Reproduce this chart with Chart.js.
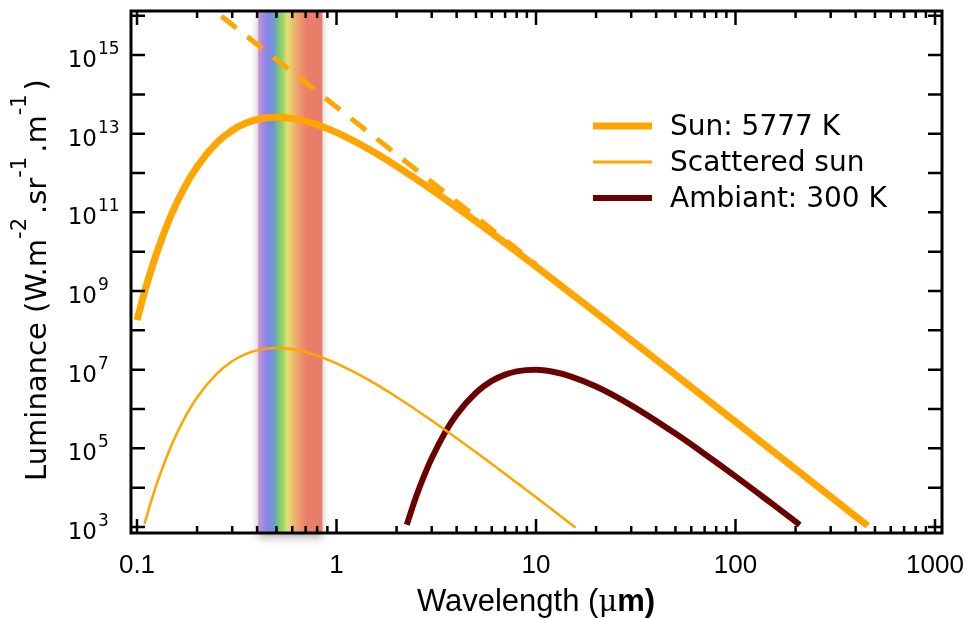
<!DOCTYPE html>
<html><head><meta charset="utf-8">
<script src="https://cdn.jsdelivr.net/npm/chart.js@4.4.0/dist/chart.umd.min.js"></script>
<style>html,body{margin:0;padding:0;background:#fff;}#wrap{width:968px;height:618px;position:relative;}</style>
</head><body><div id="wrap"><canvas id="c" width="968" height="618"></canvas></div>
<script>
// ---- data (wavelength in µm, luminance in W.m-2.sr-1.m-1) ----
const sunWavelengths = [0.1, 0.11, 0.12, 0.13, 0.15, 0.17, 0.2, 0.25, 0.3, 0.35, 0.4, 0.5, 0.6, 0.7, 0.8, 1, 1.5, 2, 3, 5, 7, 10, 20, 50, 100, 200, 460];
const sunValues = [1.82e8, 1.09e9, 4.63e9, 1.53e10, 9.65e10, 3.64e11, 1.45e12, 5.75e12, 1.22e13, 1.84e13, 2.30e13, 2.63e13, 2.45e13, 2.08e13, 1.69e13, 1.08e13, 3.68e12, 1.50e12, 3.79e11, 5.90e10, 1.66e10, 4.21e9, 2.81e8, 7.46e6, 4.72e5, 2.97e4, 1.07e3];

const rayleighWavelengths = [0.265, 10];
const rayleighValues = [9.7e15, 4.78e9];

const scatteredWavelengths = [0.109, 0.12, 0.13, 0.15, 0.17, 0.2, 0.25, 0.3, 0.35, 0.4, 0.5, 0.6, 0.7, 0.8, 1, 1.5, 2, 3, 5, 7, 10, 15.8];
const scatteredValues = [1.2e3, 6.2e3, 2.05e4, 1.3e5, 4.9e5, 1.96e6, 7.75e6, 1.64e7, 2.48e7, 3.10e7, 3.55e7, 3.30e7, 2.80e7, 2.28e7, 1.44e7, 4.95e6, 2.02e6, 5.10e5, 7.95e4, 2.24e4, 5.67e3, 9.6e2];

const ambientWavelengths = [2.25, 2.5, 2.75, 3, 3.5, 4, 5, 6, 7, 8, 10, 12, 15, 20, 30, 50, 70, 100, 150, 210];
const ambientValues = [1.14e3, 5.68e3, 2.02e4, 5.59e4, 2.54e5, 7.22e5, 2.60e6, 5.18e6, 7.51e6, 9.08e6, 9.92e6, 8.96e6, 6.68e6, 3.72e6, 1.24e6, 2.37e5, 7.20e4, 1.94e4, 4.16e3, 1.14e3];

const visibleBand = [0.405, 0.85];
const xMajorTicks = [0.1, 1, 10, 100, 1000];
const xTickLabels = ['0.1', '1', '10', '100', '1000'];
const yDecadeExponents = [3, 4, 5, 6, 7, 8, 9, 10, 11, 12, 13, 14, 15, 16];
const yLabelExponents = [3, 5, 7, 9, 11, 13, 15];
const legendLabels = ['Sun: 5777 K', 'Scattered sun', 'Ambiant: 300 K'];

// ---- styles ----
const ORANGE = '#ffa500', DARKRED = '#6b0000';
const bandStops = [[0, '#cf90d4'], [0.08, '#a088e2'], [0.16, '#7f88e4'], [0.24, '#6f95dc'], [0.31, '#74c47a'], [0.37, '#92d06c'], [0.46, '#e6e070'], [0.56, '#ecb46e'], [0.66, '#ed946c'], [0.76, '#e97f6a'], [1, '#e87c6a']];

const pts = (xs, ys) => xs.map((v, i) => ({x: v, y: ys[i]}));

const deco = {
  id: 'deco',
  beforeDatasetsDraw(chart) {
    const {ctx, chartArea: a, scales: {x}} = chart;
    const x0 = x.getPixelForValue(visibleBand[0]), x1 = x.getPixelForValue(visibleBand[1]);
    ctx.save();
    const g = ctx.createLinearGradient(x0, 0, x1, 0);
    bandStops.forEach(([o, c]) => g.addColorStop(o, c));
    ctx.shadowColor = 'rgba(0,0,0,0.28)';
    ctx.shadowBlur = 8;
    ctx.shadowOffsetY = 5;
    ctx.fillStyle = g;
    ctx.fillRect(x0, a.top, x1 - x0, a.bottom - a.top);
    ctx.restore();
  },
  afterDatasetsDraw(chart) {
    const {ctx, chartArea: a, scales: {x, y}} = chart;
    ctx.save();
    ctx.strokeStyle = '#000';
    ctx.lineCap = 'butt';
    // ticks
    ctx.lineWidth = 2.5;
    const xt = [];
    xMajorTicks.forEach(v => xt.push([v, 14]));
    [0.1, 1, 10, 100].forEach(d => { for (let m = 2; m <= 9; m++) xt.push([d * m, 7]); });
    ctx.beginPath();
    xt.forEach(([v, len]) => {
      const px = x.getPixelForValue(v);
      ctx.moveTo(px, a.bottom); ctx.lineTo(px, a.bottom - len);
      ctx.moveTo(px, a.top); ctx.lineTo(px, a.top + len);
    });
    yDecadeExponents.forEach(e => {
      const py = y.getPixelForValue(Math.pow(10, e));
      ctx.moveTo(a.left, py); ctx.lineTo(a.left + 14, py);
      ctx.moveTo(a.right, py); ctx.lineTo(a.right - 14, py);
    });
    ctx.stroke();
    // frame
    ctx.lineWidth = 3;
    ctx.strokeRect(a.left, a.top, a.right - a.left, a.bottom - a.top);

    ctx.fillStyle = '#000';
    // x tick labels
    ctx.font = '26px "Liberation Sans Narrow", "Liberation Sans", sans-serif';
    ctx.textAlign = 'center';
    ctx.textBaseline = 'middle';
    xMajorTicks.forEach((v, i) => ctx.fillText(xTickLabels[i], x.getPixelForValue(v), a.bottom + 33));
    // y tick labels
    yLabelExponents.forEach(e => {
      const py = y.getPixelForValue(Math.pow(10, e));
      ctx.font = '23px "DejaVu Sans", sans-serif';
      ctx.textAlign = 'right';
      ctx.textBaseline = 'alphabetic';
      ctx.fillText('10', 97, py + 12);
      ctx.font = '17px "DejaVu Sans", sans-serif';
      ctx.textAlign = 'left';
      ctx.fillText(String(e), 98, py - 1);
    });
    // x title
    const xParts = [['Wavelength (', '31px "Liberation Sans Narrow", sans-serif'], ['\u03bc', '29px "DejaVu Serif", serif'], ['m)', 'bold 31px "Liberation Sans Narrow", sans-serif']];
    let total = 0;
    xParts.forEach(([t, f]) => { ctx.font = f; total += ctx.measureText(t).width; });
    let tx = 536 - total / 2;
    ctx.textAlign = 'left';
    ctx.textBaseline = 'alphabetic';
    xParts.forEach(([t, f]) => { ctx.font = f; ctx.fillText(t, tx, 611); tx += ctx.measureText(t).width; });
    // y title (rotated)
    ctx.save();
    ctx.translate(46, 280);
    ctx.rotate(-Math.PI / 2);
    const yParts = [['Luminance (W.m', 0], ['-2', 1], ['.sr', 0], ['-1', 1], ['.m', 0], ['-1', 1], [')', 0]];
    const fN = '29px "DejaVu Sans", sans-serif', fS = '21px "DejaVu Sans", sans-serif';
    let ytotal = 0;
    yParts.forEach(([t, s]) => { ctx.font = s ? fS : fN; ytotal += ctx.measureText(t).width + (s ? 4 : 0); });
    let yx = -ytotal / 2;
    yParts.forEach(([t, s]) => {
      ctx.font = s ? fS : fN;
      ctx.fillText(t, yx, s ? -20 : 0);
      yx += ctx.measureText(t).width + (s ? 4 : 0);
    });
    ctx.restore();
    // legend
    const rows = [[126, ORANGE, 7], [162, ORANGE, 3], [198, DARKRED, 6]];
    ctx.font = '28px "DejaVu Sans", sans-serif';
    ctx.textAlign = 'left';
    ctx.textBaseline = 'middle';
    rows.forEach(([ry, col, w], i) => {
      ctx.strokeStyle = col; ctx.lineWidth = w;
      ctx.beginPath(); ctx.moveTo(593, ry); ctx.lineTo(652, ry); ctx.stroke();
      ctx.fillStyle = '#000';
      ctx.fillText(legendLabels[i], 670, ry + 2);
    });
    ctx.restore();
  }
};

new Chart(document.getElementById('c'), {
  type: 'line',
  data: {
    datasets: [
      {label: 'Rayleigh-Jeans', data: pts(rayleighWavelengths, rayleighValues), borderColor: ORANGE, borderWidth: 5, borderDash: [19, 14], pointRadius: 0},
      {label: legendLabels[0], data: pts(sunWavelengths, sunValues), borderColor: ORANGE, borderWidth: 7, pointRadius: 0, cubicInterpolationMode: 'monotone'},
      {label: legendLabels[1], data: pts(scatteredWavelengths, scatteredValues), borderColor: ORANGE, borderWidth: 2.5, pointRadius: 0, cubicInterpolationMode: 'monotone'},
      {label: legendLabels[2], data: pts(ambientWavelengths, ambientValues), borderColor: DARKRED, borderWidth: 6, pointRadius: 0, cubicInterpolationMode: 'monotone'}
    ]
  },
  options: {
    responsive: false,
    animation: false,
    events: [],
    layout: {padding: {left: 131, top: 11, right: 26, bottom: 85}},
    plugins: {legend: {display: false}, tooltip: {enabled: false}},
    scales: {
      x: {type: 'logarithmic', min: 0.0933, max: 1084, display: false},
      y: {type: 'logarithmic', min: 704, max: 1.318e16, display: false}
    }
  },
  plugins: [deco]
});
</script></body></html>
